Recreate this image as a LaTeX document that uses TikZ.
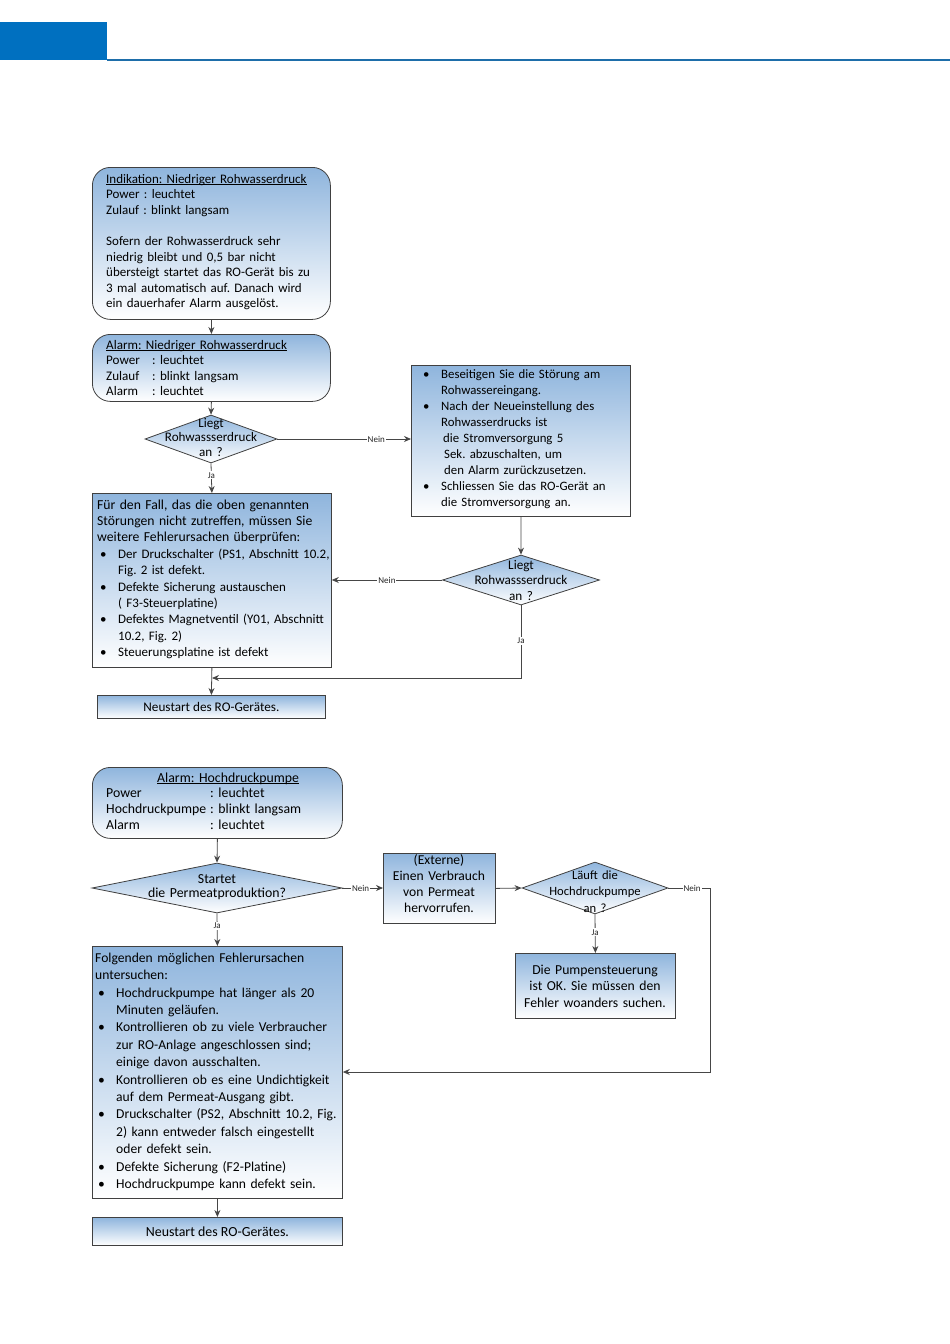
\documentclass[tikz,border=0pt]{standalone}
\usepackage{fontspec}
\setmainfont{Carlito}
\usetikzlibrary{arrows.meta,shapes.geometric}
\setlength{\parindent}{0pt}
\frenchspacing
\definecolor{boxtop}{RGB}{143,181,221}
\definecolor{bord}{RGB}{64,64,64}
\definecolor{linec}{RGB}{70,70,70}
\definecolor{headblue}{RGB}{0,112,192}
\definecolor{headline}{RGB}{30,110,170}
\newcommand{\bitem}[1]{\hangindent=21pt\hangafter=1\noindent\makebox[21pt][l]{\hspace{3pt}\textbullet}#1\par}
\newcommand{\fs}[2]{\fontsize{#1}{#2}\selectfont}
\newcommand{\ulx}[1]{\setbox0\hbox{#1}\rlap{\rule[-1.7pt]{\wd0}{0.7pt}}\box0}
\tikzset{
  box/.style={draw=bord, line width=0.8pt, top color=boxtop, bottom color=white, inner sep=0pt, anchor=north west},
  rbox/.style={box, rounded corners=18pt},
  dia/.style={diamond, draw=bord, line width=0.8pt, top color=boxtop, bottom color=white, inner sep=0pt},
  txt/.style={anchor=north west, inner sep=0pt, text width=300pt, align=left},
  ctxt/.style={anchor=north, inner sep=0pt, text width=220pt, align=center},
  arr/.style={draw=linec, line width=0.8pt, -{Stealth[length=7pt,width=6pt]}},
  lbl/.style={font=\fs{9}{10}, fill=white, inner sep=1pt, text=black!85}
}
\begin{document}
\begin{tikzpicture}[x=1pt,y=-1pt, font=\fs{13}{16}]
\useasboundingbox (0,0) rectangle (950,1344);
\fill[headblue] (0,22) rectangle (107,60);
\draw[headline, line width=2pt] (107,59.5) -- (950,59.5);

% ---------- Section 1 ----------
\node[rbox, minimum width=238pt, minimum height=152pt] (ind) at (92,167) {};
\node[txt, font=\fs{13}{15.6}] (indt) at (106,172) {\strut\ulx{Indikation: Niedriger Rohwasserdruck}\\
Power : leuchtet\\
Zulauf : blinkt langsam\\
\mbox{}\\
Sofern der Rohwasserdruck sehr\\
niedrig bleibt und 0,5 bar nicht\\
übersteigt startet das RO-Gerät bis zu\\
3 mal automatisch auf. Danach wird\\
ein dauerhafer Alarm ausgelöst.};

\node[rbox, minimum width=238pt, minimum height=67pt] (al1) at (92,334) {};
\node[txt, font=\fs{13.1}{15.6}] (al1t) at (106,338) {\strut\ulx{Alarm: Niedriger Rohwasserdruck}\\
\makebox[46pt][l]{Power}: leuchtet\\
\makebox[46pt][l]{Zulauf}: blinkt langsam\\
\makebox[46pt][l]{Alarm}: leuchtet};

\node[dia, minimum width=132pt, minimum height=48pt] (d1) at (211,439) {};
\node[ctxt, font=\fs{13.1}{14.5}] (d1t) at (211,417) {\strut Liegt\\Rohwassserdruck\\an ?};

\node[box, minimum width=219pt, minimum height=151pt] (fix) at (411,365) {};
\node[txt, font=\fs{12.8}{16}] (fixt) at (420,366.8) {\bitem{\strut Beseitigen Sie die Störung am\newline Rohwassereingang.}
\bitem{Nach der Neueinstellung des\newline Rohwasserdrucks ist\newline \hspace*{2pt}die Stromversorgung 5\newline \hspace*{3pt}Sek. abzuschalten, um\newline \hspace*{3pt}den Alarm zurückzusetzen.}
\bitem{Schliessen Sie das RO-Gerät an\newline die Stromversorgung an.}};

\node[box, minimum width=239pt, minimum height=174pt] (c1) at (92,493) {};
\node[txt, font=\fs{13}{16.4}] (c1t) at (97,497.5) {{\fs{13.7}{16.4}\strut\makebox[228pt][s]{Für den Fall, das die oben genannten}\\
\makebox[229pt][s]{Störungen nicht zutreffen, müssen Sie}\\
weitere Fehlerursachen überprüfen:\par}
\bitem{Der Druckschalter (PS1, Abschnitt 10.2,\newline Fig. 2 ist defekt.}
\bitem{Defekte Sicherung austauschen\newline ( F3-Steuerplatine)}
\bitem{Defektes Magnetventil (Y01, Abschnitt\newline 10.2, Fig. 2)}
\bitem{Steuerungsplatine ist defekt}};

\node[dia, minimum width=157pt, minimum height=50pt] (d2) at (521,580) {};
\node[ctxt, font=\fs{13.2}{15.5}] (d2t) at (521,558) {\strut Liegt\\Rohwassserdruck\\an ?};

\node[box, minimum width=228pt, minimum height=23pt, font=\fs{13.2}{16}] (n1) at (97,695) {Neustart des RO-Gerätes.};
\coordinate (j1) at (212,678);

\draw[arr] (ind.south) -- (al1.north);
\draw[arr] (al1.south) -- (d1.north);
\draw[arr] (d1.east) -- node[lbl, pos=0.74] {Nein} (d1.east -| fix.west);
\draw[arr] (d1.south) -- node[lbl, pos=0.4] {Ja} (c1.north);
\draw[arr] (fix.south) -- (d2.north);
\draw[arr] (d2.west) -- node[lbl, pos=0.5] {Nein} (d2.west -| c1.east);
\draw[arr] (d2.south) -- node[lbl, pos=0.49] {Ja} (d2.south |- j1) -- (j1);
\draw[arr] (c1.south) -- (n1.north);

% ---------- Section 2 ----------
\node[rbox, minimum width=250pt, minimum height=71pt] (al2) at (92,767) {};
\node[txt, font=\fs{13.8}{15.7}] (al2t) at (106,771) {\strut\hspace*{51pt}\ulx{Alarm: Hochdruckpumpe}\\
\makebox[104pt][l]{Power}: leuchtet\\
\makebox[104pt][l]{Hochdruckpumpe}: blinkt langsam\\
\makebox[104pt][l]{Alarm}: leuchtet};

\node[dia, minimum width=250pt, minimum height=50pt] (d3) at (217,888) {};
\node[ctxt, font=\fs{13.8}{14.5}] (d3t) at (217,873) {\strut Startet\\die Permeatproduktion?};

\node[box, minimum width=112pt, minimum height=70pt] (ext) at (383,853) {};
\node[ctxt, font=\fs{13.6}{16}] (extt) at (439,853) {\strut(Externe)\\Einen Verbrauch\\von Permeat\\hervorrufen.};

\node[dia, minimum width=146pt, minimum height=52pt] (d4) at (595,888) {};
\node[ctxt, font=\fs{12.6}{16.5}] (d4t) at (595,867.5) {\strut Läuft die\\Hochdruckpumpe\\an ?};

\node[box, minimum width=160pt, minimum height=65pt] (pump) at (515,953) {};
\node[ctxt, font=\fs{13.7}{16.5}] (pumpt) at (595,962.5) {\strut Die Pumpensteuerung\\ist OK. Sie müssen den\\Fehler woanders suchen.};

\node[box, minimum width=250pt, minimum height=252pt] (c2) at (92,946) {};
\node[txt, font=\fs{13.6}{17.4}] (c2t) at (95,950) {\strut Folgenden möglichen Fehlerursachen\\
untersuchen:\par
\bitem{Hochdruckpumpe hat länger als 20\newline Minuten geläufen.}
\bitem{Kontrollieren ob zu viele Verbraucher\newline zur RO-Anlage angeschlossen sind;\newline einige davon ausschalten.}
\bitem{Kontrollieren ob es eine Undichtigkeit\newline auf dem Permeat-Ausgang gibt.}
\bitem{Druckschalter (PS2, Abschnitt 10.2, Fig.\newline 2) kann entweder falsch eingestellt\newline oder defekt sein.}
\bitem{Defekte Sicherung (F2-Platine)}
\bitem{Hochdruckpumpe kann defekt sein.}};

\node[box, minimum width=250pt, minimum height=28pt, font=\fs{13.9}{16}] (n2) at (92,1217) {Neustart des RO-Gerätes.};
\coordinate (k1) at (710,1072);

\draw[arr] (al2.south) -- (d3.north);
\draw[arr] (d3.east) -- node[lbl, pos=0.45] {Nein} (d3.east -| ext.west);
\draw[arr] (ext.east) -- (d4.west);
\draw[arr] (d4.south) -- node[lbl, pos=0.46] {Ja} (pump.north);
\draw[arr] (d4.east) -- node[lbl, pos=0.57] {Nein} (d4.east -| k1) -- (k1) -- (k1 -| c2.east);
\draw[arr] (d3.south) -- node[lbl, pos=0.39] {Ja} (c2.north);
\draw[arr] (c2.south) -- (n2.north);
\end{tikzpicture}
\end{document}
